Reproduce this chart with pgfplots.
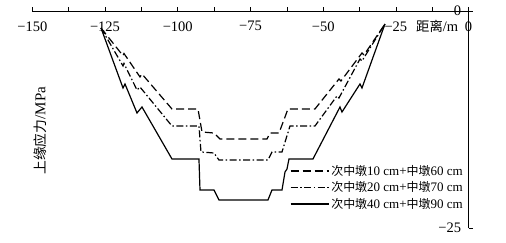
\documentclass[border=0pt]{standalone}
\usepackage{fontspec}
\setmainfont{Liberation Serif}
\newfontfamily\cjk[Scale=0.92]{Noto Sans CJK SC}
\usepackage{pgfplots}
\pgfplotsset{compat=1.18}
\begin{document}
\begin{tikzpicture}
\path[use as bounding box] (-32.3pt,-14pt) rectangle (473.7pt,228pt);
\begin{axis}[
  scale only axis, width=440.1pt, height=220.5pt,
  at={(0pt,0pt)}, anchor=south west,
  axis lines=middle, axis line style={-, line width=0.7pt},
  xmin=-150, xmax=1.3, ymin=-25, ymax=0.4,
  xtick={-150,-125,-100,-75,-50,-25,0},
  xticklabels={−150,−125,−100,−75,−50,−25,0},
  minor x tick num=1,
  ytick={-25,0}, yticklabels={−25,0},
  tick align=inside,
  major tick length=4pt, minor tick length=4pt,
  tick style={line width=0.6pt, black},
  hide obscured x ticks=false, hide obscured y ticks=false,
  tick label style={font=\fontsize{14.5}{16}\selectfont},
  xticklabel style={yshift=-7pt},
  yticklabel style={xshift=-4pt},
  legend style={at={(0.983,0.295)}, anchor=north east, draw=none, fill=none,
    font=\fontsize{13}{15}\selectfont, row sep=1pt, inner sep=0pt,
    cells={anchor=west}},
  legend image code/.code={\draw[#1] (0pt,0pt) -- (38pt,0pt);},
  clip=false,
]
\addplot[black, line width=1.2pt, dash pattern=on 8pt off 4pt] coordinates {
(-126.38,-1.96) (-118.82,-5.15) (-118.48,-4.90) (-112.98,-7.60) (-112.29,-7.26)
(-101.98,-11.29) (-93.04,-11.29) (-91.66,-13.94) (-87.54,-14.06) (-85.48,-14.75)
(-69.32,-14.75) (-68.29,-14.06) (-65.19,-14.06) (-62.10,-11.29) (-52.82,-11.29)
(-44.57,-7.83) (-43.88,-8.06) (-36.66,-4.84) (-35.97,-5.07) (-28.76,-1.50)};
\addlegendentry{{\cjk 次中墩}10 cm+{\cjk 中墩}60 cm}
\addplot[black, line width=1.2pt, dash pattern=on 7pt off 2.5pt on 1.5pt off 2.5pt] coordinates {
(-126.38,-1.96) (-118.82,-6.33) (-118.48,-6.05) (-114.01,-9.10) (-112.98,-8.76)
(-101.98,-13.25) (-92.70,-13.25) (-92.01,-16.24) (-87.54,-16.36) (-85.82,-17.17)
(-68.98,-17.17) (-67.60,-16.24) (-64.16,-16.24) (-61.41,-13.25) (-52.82,-13.25)
(-45.26,-9.79) (-44.57,-10.02) (-37.35,-5.53) (-36.66,-5.76) (-28.76,-1.50)};
\addlegendentry{{\cjk 次中墩}20 cm+{\cjk 中墩}70 cm}
\addplot[black, line width=1.2pt] coordinates {
(-126.38,-1.96) (-118.82,-8.87) (-118.13,-8.41) (-114.01,-11.75) (-112.29,-11.06)
(-101.98,-17.05) (-92.70,-17.05) (-92.35,-20.62) (-87.54,-20.62) (-85.82,-21.77)
(-68.98,-21.77) (-67.60,-20.62) (-64.16,-20.62) (-63.13,-18.55) (-62.44,-18.20)
(-61.76,-17.05) (-53.51,-17.05) (-44.22,-11.06) (-43.54,-11.64) (-37.35,-8.41)
(-36.66,-8.87) (-28.76,-1.50)};
\addlegendentry{{\cjk 次中墩}40 cm+{\cjk 中墩}90 cm}
\node[anchor=north, inner sep=0pt, font=\fontsize{14.5}{16}\selectfont] at (axis cs:-10.8,-1.05) {{\cjk 距离}/m};
\node[rotate=90, inner sep=0pt, font=\fontsize{15}{17}\selectfont] at (axis cs:-147.3,-13.8) {{\cjk 上缘应力}/MPa};
\end{axis}
\end{tikzpicture}
\end{document}
